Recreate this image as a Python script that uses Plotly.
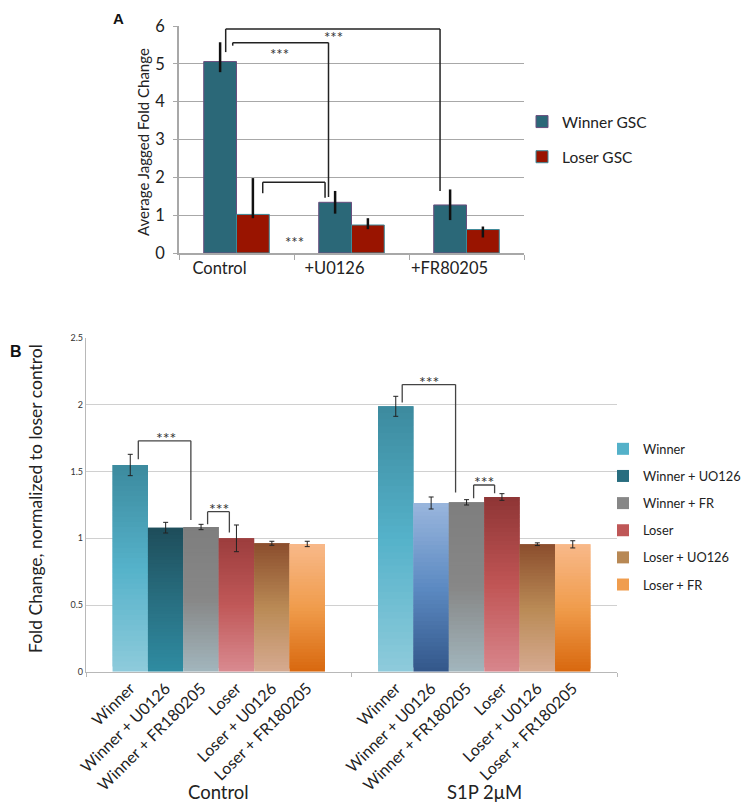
import plotly.graph_objects as go

# ---------------- Panel A data ----------------
cats_a = ["Control", "+U0126", "+FR80205"]
winner_gsc = [5.06, 1.34, 1.27]
winner_gsc_err_plus = [0.51, 0.30, 0.41]
winner_gsc_err_minus = [0.28, 0.30, 0.40]
loser_gsc = [1.02, 0.74, 0.62]
loser_gsc_err_plus = [0.96, 0.18, 0.08]
loser_gsc_err_minus = [0.10, 0.11, 0.21]

# ---------------- Panel B data ----------------
groups_b = ["Control", "S1P 2μM"]
series_b = ["Winner", "Winner + UO126", "Winner + FR", "Loser", "Loser + UO126", "Loser + FR"]
bar_labels_b = ["Winner", "Winner + U0126", "Winner + FR180205", "Loser", "Loser + U0126", "Loser + FR180205"]
winner = [1.55, 1.99]
winner_err = [0.08, 0.075]
winner_uo126 = [1.08, 1.265]
winner_uo126_err = [0.04, 0.045]
winner_fr = [1.085, 1.27]
winner_fr_err = [0.02, 0.02]
loser = [1.0, 1.31]
loser_err = [0.10, 0.025]
loser_uo126 = [0.963, 0.956]
loser_uo126_err = [0.015, 0.01]
loser_fr = [0.958, 0.955]
loser_fr_err = [0.02, 0.027]

values_b = [winner, winner_uo126, winner_fr, loser, loser_uo126, loser_fr]
errors_b = [winner_err, winner_uo126_err, winner_fr_err, loser_err, loser_uo126_err, loser_fr_err]

# ---------------- styles ----------------
FONT = "Lato"
PAGE_OFF = 8          # default page body margin
W, H = 750 - PAGE_OFF, 805 - PAGE_OFF
BARGAP_B = 0.2
N_SLICES = 40
# gradient stops per series per group: (bottom, middle, top)
GRAD = [
    [("#8ecbdb", "#55b2ca", "#3c8a9e"), ("#8ecbdb", "#55b2ca", "#3c8a9e")],
    [("#2f8ca2", "#286e80", "#1e4d5a"), ("#33578a", "#5c8ac2", "#9ab6dd")],
    [("#a2b6bd", "#878787", "#7e7e7e"), ("#a2b6bd", "#878787", "#7e7e7e")],
    [("#d98a90", "#c05858", "#9c3d3d"), ("#d8868c", "#c05555", "#8e3535")],
    [("#d6aa90", "#b98a55", "#8b4d2d"), ("#d6aa90", "#b98a55", "#8b4d2d")],
    [("#d8680e", "#f09c4c", "#f8b98a"), ("#d8680e", "#f09c4c", "#f8b98a")],
]


def hex2rgb(h):
    h = h.lstrip("#")
    return [int(h[i:i + 2], 16) for i in (0, 2, 4)]


def grad_color(stops, t):
    b, m, tp = [hex2rgb(s) for s in stops]
    if t < 0.5:
        c0, c1, f = b, m, t / 0.5
    else:
        c0, c1, f = m, tp, (t - 0.5) / 0.5
    c = [round(c0[i] + (c1[i] - c0[i]) * f) for i in range(3)]
    return "rgb(%d,%d,%d)" % tuple(c)


def px_x(px):
    return (px - PAGE_OFF) / W


def px_y(py):
    return 1 - (py - PAGE_OFF) / H


fig = go.Figure()

# ---------------- Panel A bars ----------------
BW_A = 0.285
fig.add_trace(go.Bar(
    x=cats_a, y=winner_gsc, name="Winner GSC", legendgroup="wg", legend="legend",
    width=BW_A, offset=-BW_A,
    marker=dict(color="#2b6878", line=dict(color="#6a4e7e", width=1)),
    error_y=dict(type="data", symmetric=False, array=winner_gsc_err_plus,
                 arrayminus=winner_gsc_err_minus, color="#111111", thickness=2.5, width=0),
    xaxis="x", yaxis="y"))
fig.add_trace(go.Bar(
    x=cats_a, y=loser_gsc, name="Loser GSC", legendgroup="lg", legend="legend",
    width=BW_A, offset=0,
    marker=dict(color="#991400", line=dict(color="#3d8b9a", width=1)),
    error_y=dict(type="data", symmetric=False, array=loser_gsc_err_plus,
                 arrayminus=loser_gsc_err_minus, color="#111111", thickness=2.5, width=0),
    xaxis="x", yaxis="y"))

# ---------------- Panel B bars (gradient via overlapping stacked slices) ----------------
xb = list(range(len(groups_b)))
for i, (name, vals, errs) in enumerate(zip(series_b, values_b, errors_b)):
    for k in range(N_SLICES):
        t = (k + 0.5) / N_SLICES
        cols = [grad_color(GRAD[i][g], t) for g in range(len(groups_b))]
        span = 2 if k < N_SLICES - 1 else 1
        fig.add_trace(go.Bar(
            x=xb, y=[v * span / N_SLICES for v in vals], base=[v * k / N_SLICES for v in vals],
            name=name, legendgroup=name, legend="legend2", showlegend=(k == N_SLICES // 2),
            offsetgroup=name, marker=dict(color=cols, line=dict(width=0)),
            hoverinfo="skip", xaxis="x2", yaxis="y2"))
    fig.add_trace(go.Bar(
        x=xb, y=vals, name=name, legendgroup=name, legend="legend2", showlegend=False,
        offsetgroup=name, marker=dict(color="rgba(0,0,0,0)", line=dict(width=0)),
        error_y=dict(type="data", array=errs, color="#222222", thickness=1, width=2.5),
        xaxis="x2", yaxis="y2"))

# tick positions for per-bar labels in panel B
tickvals_b, ticktext_b = [], []
nser = len(series_b)
for g in xb:
    for i in range(nser):
        tickvals_b.append(g - (1 - BARGAP_B) / 2 + (1 - BARGAP_B) / nser * (i + 0.5))
        ticktext_b.append(bar_labels_b[i])

shapes = []
annotations = []


def bracket(xref, yref, x0, y0a, x1, y1a, ytop, color, width):
    for (a, b, c, d) in [(x0, y0a, x0, ytop), (x0, ytop, x1, ytop), (x1, ytop, x1, y1a)]:
        shapes.append(dict(type="line", xref=xref, yref=yref, x0=a, y0=b, x1=c, y1=d,
                           line=dict(color=color, width=width)))


def stars(xref, yref, x, y, size, yanchor):
    annotations.append(dict(xref=xref, yref=yref, x=x, y=y, text="***", showarrow=False,
                            font=dict(family=FONT, size=size, color="#333333"),
                            yanchor=yanchor, xanchor="center"))


# Panel A brackets
bracket("x", "y", -0.033, 5.48, 0.80, 1.48, 5.56, "#222222", 1.5)
stars("x", "y", 0.37, 5.54, 15, "top")
bracket("x", "y", -0.094, 5.31, 1.77, 1.64, 5.92, "#222222", 1.5)
stars("x", "y", 0.84, 5.99, 15, "top")
bracket("x", "y", 0.228, 1.58, 0.77, 1.46, 1.87, "#222222", 1.5)
stars("x", "y", 0.5, 0.57, 15, "top")

# Panel B brackets
bracket("x2", "y2", -0.303, 1.593, -0.105, 1.138, 1.731, "#444444", 1.3)
stars("x2", "y2", -0.2, 1.671, 16, "bottom")
bracket("x2", "y2", -0.042, 1.106, 0.04, 1.043, 1.20, "#444444", 1.3)
stars("x2", "y2", 0.0, 1.14, 16, "bottom")
bracket("x2", "y2", 0.691, 2.018, 0.892, 1.343, 2.153, "#444444", 1.3)
stars("x2", "y2", 0.793, 2.093, 16, "bottom")
bracket("x2", "y2", 0.96, 1.301, 1.039, 1.338, 1.40, "#444444", 1.3)
stars("x2", "y2", 1.0, 1.34, 16, "bottom")

# Panel letters and titles
annotations += [
    dict(xref="paper", yref="paper", x=px_x(118), y=px_y(8.2), text="<b>A</b>", showarrow=False,
         font=dict(family="Liberation Sans", size=15, color="#111"), xanchor="center", yanchor="top"),
    dict(xref="paper", yref="paper", x=px_x(8.2), y=px_y(352), text="<b>B</b>", showarrow=False,
         font=dict(family="Liberation Sans", size=16, color="#111"), xanchor="left", yanchor="middle"),
    dict(xref="paper", yref="paper", x=px_x(143), y=px_y(142), text="Average Jagged Fold Change",
         textangle=-90, showarrow=False, font=dict(family=FONT, size=15, color="#222"),
         xanchor="center", yanchor="middle"),
    dict(xref="paper", yref="paper", x=px_x(35), y=px_y(499), text="Fold Change, normalized to loser control",
         textangle=-90, showarrow=False, font=dict(family=FONT, size=17.5, color="#222"),
         xanchor="center", yanchor="middle"),
]
for g, gname in zip(xb, groups_b):
    annotations.append(dict(xref="x2", yref="paper", x=g, y=px_y(804.5), text=gname, showarrow=False,
                            font=dict(family=FONT, size=18.5, color="#222"), xanchor="center",
                            yanchor="bottom"))

GRID_A = "#a8a8a8"
AX_B = "#b8b8b8"
fig.update_layout(
    width=W, height=H, margin=dict(l=0, r=0, t=0, b=0, autoexpand=False),
    paper_bgcolor="white", plot_bgcolor="white",
    barmode="group", bargap=BARGAP_B, bargroupgap=0,
    font=dict(family=FONT, color="#222"),
    xaxis=dict(domain=[px_x(179), px_x(524)], anchor="y", type="category", range=[-0.5, 2.5],
               tickson="boundaries", ticks="outside", ticklen=5, tickcolor=GRID_A, tickwidth=1.3,
               showline=True, linecolor=GRID_A, linewidth=1.5, showgrid=False, automargin=False,
               tickfont=dict(size=16.5, color="#222"), ticklabelshift=-17, ticklabelstandoff=-1,
               fixedrange=True),
    yaxis=dict(domain=[px_y(253), px_y(26)], anchor="x", range=[0, 6], dtick=1, tick0=0,
               showgrid=True, gridcolor=GRID_A, gridwidth=1.3, zeroline=False, automargin=False,
               showline=True, linecolor=GRID_A, linewidth=1.5, ticks="outside", ticklen=4,
               ticklabelstandoff=5,
               tickcolor=GRID_A, tickfont=dict(size=16.5, color="#222"), fixedrange=True),
    xaxis2=dict(domain=[px_x(86), px_x(617)], anchor="y2", range=[-0.5, 1.5], automargin=False,
                tickmode="array", tickvals=tickvals_b, ticktext=ticktext_b, tickangle=-45,
                ticks="", showline=True, linecolor=AX_B, linewidth=1.3, showgrid=False, zeroline=False,
                minor=dict(tickmode="linear", tick0=-0.5, dtick=1, ticks="outside", ticklen=4,
                           tickcolor=AX_B, showgrid=False),
                tickfont=dict(size=16, color="#222"), fixedrange=True),
    yaxis2=dict(domain=[px_y(671.7), px_y(338.3)], anchor="x2", range=[0, 2.5], dtick=0.5, tick0=0,
                showgrid=True, gridcolor="#d0d0d0", gridwidth=1, zeroline=False, automargin=False,
                showline=True, linecolor=AX_B, linewidth=1.3, ticks="",
                tickfont=dict(size=9, color="#333"), fixedrange=True),
    legend=dict(x=px_x(522), y=px_y(105), xanchor="left", yanchor="top", traceorder="grouped",
                tracegroupgap=12, font=dict(family=FONT, size=15.5, color="#222"),
                bgcolor="rgba(0,0,0,0)"),
    legend2=dict(x=px_x(603), y=px_y(434), xanchor="left", yanchor="top", traceorder="grouped",
                 tracegroupgap=7.5, font=dict(family=FONT, size=12.8, color="#222"),
                 bgcolor="rgba(0,0,0,0)"),
    shapes=shapes, annotations=annotations,
)

fig.write_html("out.html")
